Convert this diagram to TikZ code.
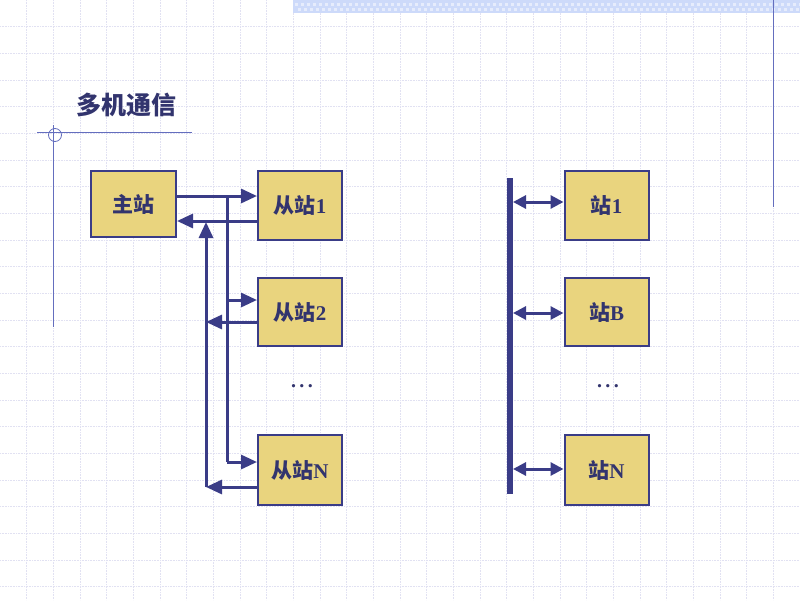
\documentclass[tikz,border=0pt]{standalone}
\usepackage{fontspec}
\setmainfont{Liberation Serif}
\newfontfamily\cjk{Noto Sans CJK SC}
\usetikzlibrary{arrows.meta}
\definecolor{navy}{RGB}{58,60,135}
\definecolor{boxfill}{RGB}{233,212,126}
\definecolor{gridc}{RGB}{225,225,242}
\definecolor{band}{RGB}{205,218,250}
\definecolor{rule}{RGB}{100,110,190}
\definecolor{txt}{RGB}{50,52,110}
\begin{document}
\begin{tikzpicture}[x=1pt,y=-1pt,
  stbox/.style={draw=navy,line width=2pt,fill=boxfill,minimum width=84pt,minimum height=68pt,inner sep=0pt,text=txt,font=\fontsize{21}{21}\selectfont\bfseries},
  conn/.style={draw=navy,line width=3pt},
  arr/.style={conn,-{Triangle[length=16pt,width=14pt]}},
  darr/.style={conn,{Triangle[length=13pt,width=13pt]}-{Triangle[length=13pt,width=13pt]}},
  dotsn/.style={text=txt,font=\fontsize{20}{20}\selectfont\bfseries}]
\useasboundingbox (0,0) rectangle (800,600);
\fill[white] (0,0) rectangle (800,600);
% grid
\foreach \i in {1,...,29} {\draw[gridc,densely dotted,line width=0.6pt] (\i*26.667,0) -- (\i*26.667,600);}
\foreach \j in {1,...,22} {\draw[gridc,densely dotted,line width=0.6pt] (0,\j*26.667) -- (800,\j*26.667);}
% top band
\fill[band] (293,0) rectangle (800,13);
\foreach \i in {0,...,84} {\fill[white,opacity=0.5] (295+\i*6,3) rectangle ++(3,3); \fill[white,opacity=0.5] (298+\i*6,8) rectangle ++(3,3);}
\draw[rule,line width=1pt] (773,0) -- (773,207);
% title decoration
\node[anchor=west,text=txt,font=\cjk\fontsize{25}{25}\selectfont\bfseries] (title) at (73,105) {多机通信};
\draw[rule,line width=1pt] (37,132) -- (192,132);
\draw[rule,line width=0.8pt] (55,135) circle (6.5);
\draw[rule,line width=1pt] (53,125) -- (53,327);
% left boxes
\node[stbox,minimum width=85pt,minimum height=66pt] (zhu) at (133.5,204) {\cjk 主站};
\node[stbox,minimum height=69pt] (c1) at (300,205.5) {\cjk 从站\normalfont\bfseries 1};
\node[stbox] (c2) at (300,312) {\cjk 从站\normalfont\bfseries 2};
\node[stbox,minimum height=70pt] (cn) at (300,470) {\cjk 从站\normalfont\bfseries N};
\node[dotsn] (ld) at (302,386) {.\,.\,.};
% left connectors
\draw[arr] (zhu.east |- 0,196) -- (c1.west |- 0,196);
\draw[arr] (c1.west |- 0,221) -- (zhu.east |- 0,221);
\coordinate (v1top) at (227,196);
\coordinate (v1bot) at (227,462);
\draw[conn] (v1top) -- (v1bot);
\draw[arr] (227,300) -- (c2.west |- 0,300);
\draw[arr] (v1bot) -- (cn.west |- v1bot);
\coordinate (v2bot) at (206,487);
\coordinate (v2top) at (206,222);
\draw[arr] (v2bot) -- (v2top);
\draw[arr] (c2.west |- 0,322) -- (206,322);
\draw[arr] (cn.west |- v2bot) -- (v2bot);
% right side
\node[stbox,minimum height=69pt] (s1) at (606.5,205.5) {\cjk 站\normalfont\bfseries 1};
\node[stbox] (sb) at (606.5,312) {\cjk 站\normalfont\bfseries B};
\node[stbox,minimum height=70pt] (sn) at (606.5,470) {\cjk 站\normalfont\bfseries N};
\node[dotsn] (rd) at (608,386) {.\,.\,.};
\coordinate (bustop) at (510,178);
\coordinate (busbot) at (510,494);
\draw[navy,line width=6pt] (bustop) -- (busbot);
\draw[darr] (513,202) -- (s1.west |- 0,202);
\draw[darr] (513,313) -- (sb.west |- 0,313);
\draw[darr] (513,469) -- (sn.west |- 0,469);
\end{tikzpicture}
\end{document}
